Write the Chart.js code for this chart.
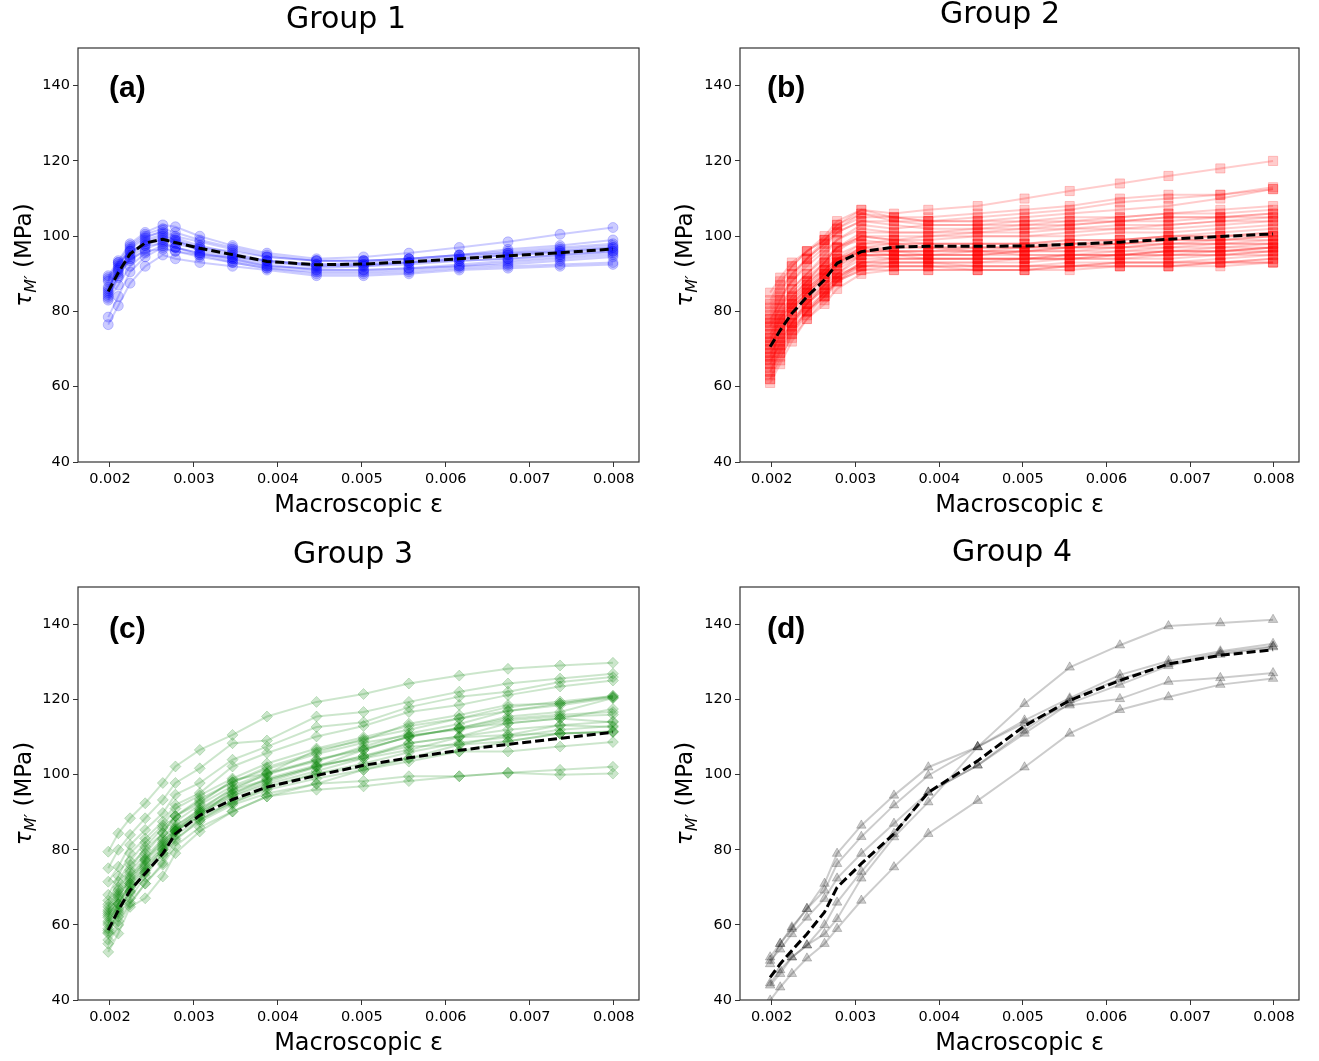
<!DOCTYPE html>
<html>
<head>
<meta charset="utf-8">
<script src="https://cdn.jsdelivr.net/npm/chart.js@4.4.1/dist/chart.umd.min.js"></script>
<style>
  body { margin: 0; background: #fff; }
  #wrap { position: relative; width: 1319px; height: 1061px; }
  canvas { position: absolute; }
</style>
</head>
<body>
<div id="wrap">
  <canvas id="c1" width="660" height="530" style="left:0px;top:0px"></canvas>
  <canvas id="c2" width="659" height="530" style="left:660px;top:0px"></canvas>
  <canvas id="c3" width="660" height="531" style="left:0px;top:530px"></canvas>
  <canvas id="c4" width="659" height="531" style="left:660px;top:530px"></canvas>
</div>
<script>
// macroscopic strain at each load step
var strain = [0.00198, 0.0021, 0.00224, 0.00242, 0.00263, 0.00278, 0.00307, 0.00346,
              0.00387, 0.00446, 0.00502, 0.00556, 0.00616, 0.00674, 0.00736, 0.00799];
var xTicks = [0.002, 0.003, 0.004, 0.005, 0.006, 0.007, 0.008];
var yTicks = [40, 60, 80, 100, 120, 140];

// group 1 (blue circles)
var g1Mean = [85.3, 90.3, 95.3, 98.2, 99.2, 98.3, 96.8, 95.1, 93.3, 92.4, 92.6, 93.2, 94.0, 94.8, 95.6, 96.6];
var g1Curves = [
  [89.5, 93.5, 98, 101, 103, 102.5, 100, 97.5, 95.5, 94, 94.5, 95.5, 97, 98.5, 100.5, 102.3],
  [88.5, 93, 97.5, 100.5, 102, 101, 99, 97, 95, 93.5, 93.5, 94, 95, 96.5, 97.5, 99],
  [86, 91.5, 96.5, 99.5, 101.5, 100, 98.5, 96.5, 94.5, 93.5, 93.5, 94, 95, 96, 97, 98],
  [85, 91, 95, 99, 100.5, 99, 97, 95, 93.5, 92.5, 93, 93.5, 94.5, 95.5, 96.5, 97.5],
  [84.5, 90, 94, 97.5, 99.5, 98, 96.5, 94.5, 93, 92, 92.5, 93, 94, 95, 96, 97],
  [83.5, 89, 94.5, 98.5, 100, 99, 96, 94, 92, 91.5, 92, 93, 94, 95, 95.5, 96.5],
  [85.5, 92, 97, 100, 101, 99.5, 97.5, 95.5, 93.5, 92.5, 92.5, 93, 93.5, 94, 95, 96],
  [84, 89.5, 93.5, 96.5, 98.5, 97, 95, 93, 91.5, 90.5, 90.5, 91, 92, 93, 94, 95],
  [88, 92.5, 96, 97.5, 98, 97, 95.5, 94, 92.5, 91, 91, 91.5, 92, 92.5, 93.5, 94.5],
  [78.5, 84, 90.5, 94.5, 97, 96, 94.5, 93, 91.5, 90, 90, 90.5, 91.5, 92, 92.5, 93],
  [76.5, 81.5, 87.5, 92, 95, 94, 93, 92, 91, 89.5, 89.5, 90, 91, 91.5, 92, 92.5],
  [89, 93, 96, 98, 99, 98.5, 97, 96, 94.5, 93.5, 93.5, 94, 95, 95.5, 96, 97],
  [86.5, 90.5, 94, 96, 96.5, 96, 95, 94.5, 93.5, 92, 92, 92.5, 93.5, 94, 95, 96],
  [83, 87, 92, 95.5, 97.5, 97, 95.5, 93.5, 92, 91, 91, 91.5, 92.5, 93.5, 94.5, 95.5]
];

// group 2 (red squares)
var g2Mean = [70.6, 75.0, 79.5, 83.9, 88.4, 92.8, 95.9, 97.1, 97.3, 97.3, 97.4, 97.8, 98.4, 99.2, 99.9, 100.6];
var g2Curves = [
  [85, 89, 93, 96, 99, 103, 107, 106, 107, 108, 110, 112, 114, 116, 118, 120],
  [82, 87, 92, 96, 100, 104, 107, 105, 105, 106, 107, 108, 110, 111, 111, 113],
  [80, 85, 90, 94, 99, 103, 106, 105, 104, 105, 106, 107, 109, 110, 111, 112.5],
  [78, 83, 88, 93, 97, 101, 104, 104, 104, 104, 105, 106, 107, 108, 110, 112.5],
  [76, 81, 86, 90, 95, 99, 103, 102, 103, 103, 104, 104, 105, 106, 107, 108],
  [79, 84, 88, 92, 96, 99, 102, 101, 101, 102, 103, 103, 104, 105, 105, 106],
  [74, 79, 84, 88, 93, 97, 101, 101, 101, 101, 102, 103, 104, 104, 105, 106],
  [72, 77, 82, 87, 92, 96, 100, 100, 100, 100, 100, 101, 102, 102, 103, 104],
  [77, 81, 85, 89, 93, 97, 100, 99, 100, 101, 101, 102, 102, 103, 104, 105],
  [70, 75, 80, 85, 90, 94, 98, 99, 99, 100, 100, 100, 101, 101, 102, 103],
  [68, 73, 79, 84, 89, 93, 97, 98, 98, 98, 98, 99, 99, 100, 101, 102],
  [66, 72, 77, 83, 88, 93, 97, 97, 97, 97, 97, 98, 98, 99, 99, 100],
  [64, 70, 76, 82, 87, 92, 96, 96, 96, 96, 96, 97, 97, 98, 98, 99],
  [62, 67, 74, 80, 85, 90, 95, 95, 95, 95, 96, 96, 97, 97, 98, 98],
  [61, 66, 72, 78, 83, 88, 93, 94, 94, 94, 94, 95, 95, 96, 96, 97],
  [63, 69, 75, 80, 85, 89, 93, 93, 93, 93, 93, 94, 94, 95, 95, 96],
  [65, 70, 75, 80, 84, 88, 92, 92, 92, 92, 92, 93, 93, 93, 94, 95],
  [67, 71, 76, 80, 84, 88, 91, 92, 92, 91, 91, 92, 92, 92, 93, 94],
  [69, 73, 77, 81, 85, 88, 91, 91, 91, 91, 91, 91, 92, 92, 92, 93],
  [71, 75, 79, 83, 87, 90, 92, 92, 92, 92, 92, 92, 93, 93, 93, 94],
  [73, 77, 81, 85, 89, 92, 95, 94, 94, 94, 94, 94, 95, 95, 95, 96],
  [75, 79, 83, 87, 91, 94, 96, 96, 96, 96, 95, 95, 96, 96, 96, 97],
  [70, 76, 81, 86, 91, 95, 98, 98, 97, 97, 97, 97, 97, 98, 98, 98],
  [72, 78, 83, 88, 93, 97, 100, 99, 98, 98, 98, 98, 98, 99, 99, 100],
  [68, 74, 80, 85, 90, 94, 97, 96, 95, 95, 95, 95, 95, 96, 96, 96],
  [66, 71, 77, 82, 87, 91, 95, 95, 94, 94, 94, 94, 94, 94, 95, 95],
  [64, 69, 74, 79, 84, 89, 93, 93, 93, 92, 92, 92, 93, 93, 93, 93],
  [76, 80, 84, 88, 91, 94, 96, 95, 95, 95, 96, 97, 98, 99, 100, 101],
  [74, 78, 82, 86, 90, 93, 95, 95, 95, 96, 97, 98, 99, 100, 100, 101],
  [78, 82, 86, 90, 94, 97, 99, 98, 98, 98, 98, 99, 99, 100, 100, 100],
  [81, 86, 90, 94, 98, 101, 104, 103, 102, 102, 102, 102, 103, 103, 104, 104],
  [83, 88, 92, 96, 99, 102, 105, 105, 104, 104, 104, 105, 105, 106, 106, 107],
  [69, 74, 78, 82, 86, 89, 92, 93, 93, 93, 94, 94, 95, 95, 96, 97],
  [71, 76, 81, 85, 89, 93, 96, 96, 96, 97, 97, 97, 98, 98, 99, 99],
  [67, 72, 77, 82, 86, 90, 94, 94, 94, 94, 94, 95, 95, 96, 97, 97],
  [73, 78, 82, 86, 90, 93, 96, 97, 97, 96, 96, 96, 96, 97, 97, 98],
  [62, 68, 73, 78, 82, 86, 90, 91, 91, 91, 91, 92, 92, 92, 93, 93],
  [77, 83, 89, 94, 98, 102, 106, 104, 103, 103, 103, 104, 104, 105, 105, 105]
];

// group 3 (green diamonds)
var g3Mean = [58.6, 63.9, 69.2, 73.7, 79.0, 84.3, 89.2, 93.4, 96.7, 99.8, 102.5, 104.5, 106.5, 108.1, 109.7, 111.3];
var g3Curves = [
  [79.5, 84.4, 88.4, 92.4, 97.8, 102.2, 106.6, 110.6, 115.5, 119.4, 121.5, 124.3, 126.4, 128.2, 129.1, 129.8],
  [75.1, 80.0, 84.0, 88.4, 93.3, 97.8, 101.7, 108.4, 109.1, 115.5, 116.7, 119.4, 122.1, 124.3, 125.6, 126.9],
  [71.5, 75.5, 81.3, 85.3, 89.8, 94.7, 97.8, 104.0, 107.5, 112.7, 114.0, 118.0, 120.8, 122.1, 124.7, 126.0],
  [68.0, 73.0, 79.1, 83.0, 87.5, 92.0, 95.1, 102.2, 105.8, 110.2, 113.0, 116.7, 118.6, 121.2, 123.5, 125.1],
  [64.8, 69.3, 74.6, 80.8, 85.8, 88.9, 92.4, 98.6, 100.3, 106.6, 109.1, 113.6, 115.9, 118.6, 119.0, 120.7],
  [63.0, 65.7, 71.1, 77.3, 82.6, 84.9, 88.9, 96.0, 98.6, 102.2, 106.6, 110.2, 112.4, 115.5, 116.7, 120.4],
  [65.5, 70.0, 76.0, 80.0, 84.5, 89.0, 93.0, 98.0, 102.0, 106.0, 109.5, 112.0, 115.0, 118.0, 119.5, 121.0],
  [62.0, 67.0, 72.5, 77.5, 82.0, 86.5, 90.5, 96.5, 100.0, 104.0, 107.0, 110.0, 112.5, 115.0, 116.0, 116.7],
  [60.0, 64.5, 70.0, 75.0, 80.0, 85.0, 90.0, 94.5, 98.0, 102.0, 105.0, 108.4, 110.2, 113.7, 115.0, 114.0],
  [58.0, 63.0, 68.5, 73.7, 79.1, 84.9, 89.5, 94.2, 97.5, 101.0, 104.4, 106.6, 110.0, 110.6, 113.2, 112.7],
  [57.7, 62.2, 67.1, 72.9, 79.1, 84.0, 88.0, 93.0, 96.9, 100.3, 102.0, 104.4, 108.0, 108.9, 111.0, 111.4],
  [52.8, 57.7, 64.8, 67.1, 72.9, 79.1, 84.9, 90.2, 94.2, 97.6, 101.3, 104.4, 106.2, 108.9, 111.0, 111.4],
  [61.0, 65.5, 70.5, 75.5, 80.5, 85.0, 89.0, 92.5, 96.0, 99.0, 101.3, 103.5, 106.2, 106.2, 107.5, 108.7],
  [59.0, 64.0, 69.0, 74.0, 78.5, 83.0, 87.5, 92.0, 95.0, 97.6, 98.3, 99.6, 99.6, 100.5, 101.3, 102.1],
  [56.0, 61.0, 66.0, 71.0, 76.0, 81.0, 86.0, 90.2, 94.2, 96.0, 96.9, 98.3, 99.6, 100.5, 100.0, 100.3],
  [66.5, 71.5, 77.0, 82.0, 86.5, 91.0, 94.5, 99.0, 103.0, 107.0, 110.0, 113.0, 115.0, 117.0, 119.0, 121.0],
  [63.5, 68.0, 73.0, 78.0, 83.0, 87.5, 92.0, 97.0, 100.5, 104.0, 106.6, 110.2, 112.4, 113.7, 115.0, 117.5],
  [60.5, 65.5, 71.0, 76.0, 81.0, 85.5, 90.0, 95.0, 99.0, 102.5, 104.4, 108.4, 110.2, 112.0, 113.2, 114.2],
  [62.5, 67.5, 72.0, 77.0, 81.5, 86.0, 91.0, 96.0, 100.3, 103.5, 107.5, 111.0, 113.5, 117.0, 118.5, 120.5],
  [58.5, 63.5, 69.0, 74.5, 80.0, 85.5, 90.5, 95.0, 98.6, 102.2, 105.0, 107.5, 108.0, 110.6, 111.0, 111.6],
  [64.0, 68.5, 74.0, 79.0, 84.5, 89.0, 93.5, 98.0, 101.5, 105.5, 108.5, 110.5, 112.0, 114.5, 115.5, 116.0],
  [55.0, 60.0, 65.5, 71.0, 76.5, 82.5, 88.0, 92.5, 96.5, 100.3, 103.0, 106.0, 108.5, 110.0, 112.0, 113.0]
];

// group 4 (grey triangles)
var g4Mean = [46.0, 49.6, 53.2, 57.6, 63.4, 70.0, 76.3, 84.3, 95.3, 103.7, 113.0, 119.8, 125.1, 129.5, 131.8, 133.3];
var g4Curves = [
  [51.4, 55.0, 59.4, 64.3, 71.0, 79.0, 86.5, 94.5, 102.0, 107.4, 118.9, 128.6, 134.5, 139.6, 140.4, 141.3],
  [49.6, 55.0, 59.0, 64.3, 69.2, 76.3, 83.5, 91.9, 99.8, 107.4, 114.5, 120.4, 126.6, 130.3, 132.9, 134.9],
  [50.5, 53.5, 57.6, 62.0, 67.0, 72.4, 79.0, 87.0, 95.3, 102.5, 111.8, 120.0, 125.5, 129.5, 132.5, 134.2],
  [43.9, 47.0, 51.4, 54.6, 57.6, 61.6, 72.4, 83.4, 92.7, 107.4, 113.8, 118.5, 120.2, 124.8, 125.8, 127.1],
  [39.9, 43.4, 47.0, 51.1, 55.0, 59.0, 66.5, 75.4, 84.3, 93.1, 102.0, 111.0, 117.3, 120.7, 124.0, 125.6],
  [44.5, 48.0, 51.4, 54.6, 60.0, 66.0, 74.2, 84.3, 95.3, 102.5, 111.0, 119.0, 124.0, 129.0, 132.0, 134.0]
];

var tickFont = {family: 'DejaVu Sans', size: 14.5};

// frame, panel title, (a)-(d) tag and the tau label
var deco = {
  id: 'deco',
  afterDraw: function (chart, args, o) {
    var ctx = chart.ctx, a = chart.chartArea;
    ctx.save();
    ctx.strokeStyle = '#333';
    ctx.lineWidth = 1.2;
    ctx.strokeRect(a.left, a.top, a.right - a.left, a.bottom - a.top);

    ctx.fillStyle = '#000';
    ctx.font = '30px "DejaVu Sans"';
    ctx.textAlign = 'center';
    ctx.textBaseline = 'middle';
    ctx.fillText(o.title, o.titleX, o.titleY);

    ctx.font = 'bold 30px "Liberation Sans"';
    ctx.textAlign = 'left';
    ctx.fillText(o.tag, a.left + o.tagDx, a.top + o.tagDy);

    ctx.translate(o.ylabX, (a.top + a.bottom) / 2);
    ctx.rotate(-Math.PI / 2);
    ctx.textBaseline = 'alphabetic';
    var f1 = 'italic 23px "DejaVu Sans"', f2 = 'italic 16px "DejaVu Sans"', f3 = '23px "DejaVu Sans"';
    ctx.font = f1; var w1 = ctx.measureText('τ').width;
    ctx.font = f2; var w2 = ctx.measureText('M′').width;
    ctx.font = f3; var w3 = ctx.measureText(' (MPa)').width;
    var x0 = -(w1 + w2 + w3) / 2;
    ctx.font = f1; ctx.fillText('τ', x0, 0);
    ctx.font = f2; ctx.fillText('M′', x0 + w1, 5);
    ctx.font = f3; ctx.fillText(' (MPa)', x0 + w1 + w2, 0);
    ctx.restore();
  }
};

function drawPanel(id, curves, mean, look, box) {
  var datasets = [{
    data: strain.map(function (x, i) { return {x: x, y: mean[i]}; }),
    borderColor: '#000',
    borderWidth: 3,
    borderDash: [9, 4],
    pointRadius: 0,
    order: 0
  }];
  curves.forEach(function (c) {
    datasets.push({
      data: strain.map(function (x, i) { return {x: x, y: c[i]}; }),
      borderColor: look.color,
      borderWidth: 2,
      pointStyle: look.marker,
      pointRadius: look.size,
      pointBackgroundColor: look.color,
      pointBorderColor: look.color,
      pointBorderWidth: 1,
      order: 1
    });
  });

  new Chart(document.getElementById(id), {
    type: 'line',
    data: {datasets: datasets},
    options: {
      responsive: false,
      animation: false,
      events: [],
      layout: {padding: {top: box.top, right: box.right, left: 0, bottom: 0}},
      plugins: {legend: {display: false}, tooltip: {enabled: false}, deco: box},
      scales: {
        x: {
          type: 'linear', min: 0.00162, max: 0.0083,
          afterFit: function (s) { s.height = box.xh; },
          afterBuildTicks: function (s) { s.ticks = xTicks.map(function (v) { return {value: v}; }); },
          grid: {drawOnChartArea: false, tickLength: 5, color: '#333'},
          border: {display: false},
          ticks: {font: tickFont, color: '#000', padding: 4, maxRotation: 0,
                  callback: function (v) { return v.toFixed(3); }},
          title: {display: true, text: 'Macroscopic ε', color: '#000',
                  font: {family: 'DejaVu Sans', size: 24}, padding: {top: 0, bottom: box.xtPad}}
        },
        y: {
          min: 40, max: 150,
          afterFit: function (s) { s.width = box.yw; },
          afterBuildTicks: function (s) { s.ticks = yTicks.map(function (v) { return {value: v}; }); },
          grid: {drawOnChartArea: false, tickLength: 5, color: '#333'},
          border: {display: false},
          ticks: {font: tickFont, color: '#000', padding: 3}
        }
      }
    },
    plugins: [deco]
  });
}

drawPanel('c1', g1Curves, g1Mean,
  {color: 'rgba(0,0,255,0.2)', marker: 'circle', size: 5},
  {top: 48, right: 21, yw: 78, xh: 68, xtPad: 9.6, title: 'Group 1', titleX: 346, titleY: 20,
   tag: '(a)', tagDx: 31, tagDy: 41, ylabX: 31});
drawPanel('c2', g2Curves, g2Mean,
  {color: 'rgba(255,0,0,0.2)', marker: 'rect', size: 6.5},
  {top: 48, right: 20, yw: 80, xh: 68, xtPad: 9.6, title: 'Group 2', titleX: 340, titleY: 15,
   tag: '(b)', tagDx: 27, tagDy: 41, ylabX: 32});
drawPanel('c3', g3Curves, g3Mean,
  {color: 'rgba(0,128,0,0.2)', marker: 'rectRot', size: 5.5},
  {top: 57, right: 21, yw: 78, xh: 61, xtPad: 2.6, title: 'Group 3', titleX: 353, titleY: 25,
   tag: '(c)', tagDx: 31, tagDy: 43, ylabX: 31});
drawPanel('c4', g4Curves, g4Mean,
  {color: 'rgba(0,0,0,0.2)', marker: 'triangle', size: 5.5},
  {top: 57, right: 20, yw: 80, xh: 61, xtPad: 2.6, title: 'Group 4', titleX: 352, titleY: 23,
   tag: '(d)', tagDx: 27, tagDy: 43, ylabX: 32});
</script>
</body>
</html>
